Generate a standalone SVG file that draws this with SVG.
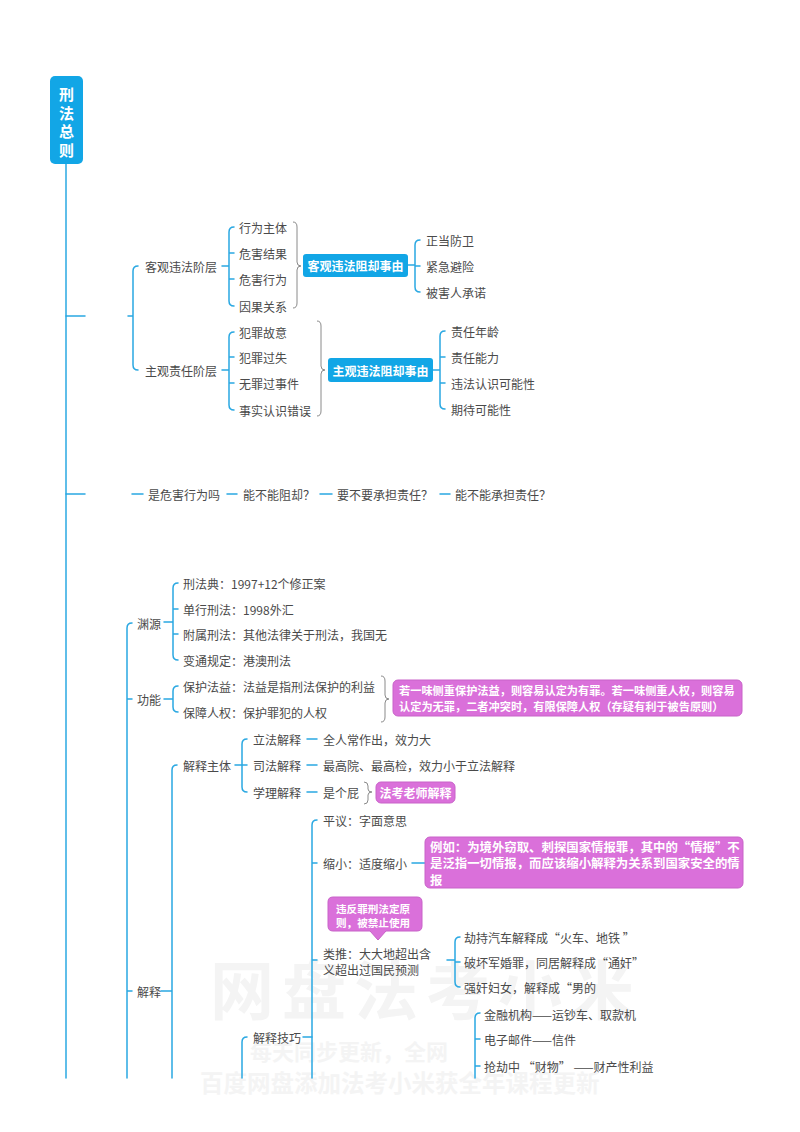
<svg xmlns="http://www.w3.org/2000/svg" width="800" height="1132" viewBox="0 0 800 1132">
<style>
.t{font-family:"Noto Sans CJK SC","Noto Sans",sans-serif;font-size:12px;fill:#4a4a4a;dominant-baseline:central}
.w{font-family:"Noto Sans CJK SC","Noto Sans",sans-serif;font-weight:bold;fill:#ffffff;dominant-baseline:central}
.ln{fill:none;stroke:#2aa8e2;stroke-width:1.5;stroke-linecap:round}
.br{fill:none;stroke:#8a8a8a;stroke-width:1}
.blue{fill:#12a6e6}
.pink{fill:#da70da;stroke:#c862c8;stroke-width:1}
.wm{font-family:"Noto Sans CJK SC",sans-serif;font-weight:bold;fill:#f4f4f4}
</style>
<rect width="800" height="1132" fill="#ffffff"/>
<g id="watermark">
<text class="wm" x="210" y="1014" font-size="64" letter-spacing="8">网盘法考小米</text>
<text class="wm" x="250" y="1060" font-size="22">每天同步更新，全网</text>
<text class="wm" x="200" y="1092" font-size="23.5">百度网盘添加法考小米获全年课程更新</text>
</g>
<g id="connectors">
<path class="ln" d="M66 164 V1078" stroke-width="2"/>
<path class="ln" d="M66 316 H85 M128 316 H133 M138 266 Q133 266 133 271 V365 Q133 370 138 370"/>
<path class="ln" d="M222 266 H229 M234 227 Q229 227 229 232 V301 Q229 306 234 306 M229 253 h5 M229 279 h5"/>
<path class="ln" d="M408 265 H415 M420 240 Q415 240 415 245 V287 Q415 292 420 292 M415 266 h5"/>
<path class="ln" d="M222 370 H229 M234 332 Q229 332 229 337 V405 Q229 410 234 410 M229 357 h5 M229 383 h5"/>
<path class="ln" d="M433 370 H440 M445 331 Q440 331 440 336 V404 Q440 409 445 409 M440 357 h5 M440 383 h5"/>
<path class="ln" d="M66 494 H85 M132 494 H143 M227 494 H237 M320 494 H332 M440 494 H450"/>
<path class="ln" d="M132 623 Q127 623 127 628 V1078 M127 699 h5 M127 991 h5"/>
<path class="ln" d="M164 622 H173 M178 583 Q173 583 173 588 V655 Q173 660 178 660 M173 609 h5 M173 634 h5"/>
<path class="ln" d="M164 699 H173 M178 686 Q173 686 173 691 V707 Q173 712 178 712"/>
<path class="ln" d="M161 991 H172 M177 765 Q172 765 172 770 V1078"/>
<path class="ln" d="M235 765 H242 M247 739 Q242 739 242 744 V787 Q242 792 247 792 M242 765 h5"/>
<path class="ln" d="M307 739 H317 M307 765 H317 M307 792 H317"/>
<path class="ln" d="M247 1037 Q242 1037 242 1042 V1078 M303 1037 H312"/>
<path class="ln" d="M317 820 Q312 820 312 825 V1078 M312 863 h5 M312 960 h5"/>
<path class="ln" d="M412 863 H425"/>
<path class="ln" d="M447 960 H455 M460 937 Q455 937 455 942 V982 Q455 987 460 987 M455 962 h5"/>
<path class="ln" d="M480 1013 Q475 1013 475 1018 V1078 M475 1039 h5 M475 1066 h5"/>
<path class="br" d="M293 222 Q297 222 297 227 V262 Q297 266 301 266 Q297 266 297 270 V303 Q297 308 293 308"/>
<path class="br" d="M317 321 Q321 321 321 326 V366 Q321 370 325 370 Q321 370 321 374 V411 Q321 416 317 416"/>
<path class="br" d="M381 676 Q385 676 385 681 V695 Q385 699 389 699 Q385 699 385 703 V717 Q385 722 381 722"/>
<path class="br" d="M364 782 Q368 782 368 786 V789 Q368 792 372 792 Q368 792 368 795 V800 Q368 804 364 804"/>
</g>
<g id="root">
<rect class="blue" x="50" y="76" width="33" height="88" rx="5"/>
<text class="w" font-size="15" x="66.5" y="93.5" text-anchor="middle">刑</text>
<text class="w" font-size="15" x="66.5" y="112" text-anchor="middle">法</text>
<text class="w" font-size="15" x="66.5" y="130.5" text-anchor="middle">总</text>
<text class="w" font-size="15" x="66.5" y="149" text-anchor="middle">则</text>
</g>
<g id="n-objective">
<text class="t" x="145" y="266">客观违法阶层</text>
<text class="t" x="239" y="227">行为主体</text>
<text class="t" x="239" y="253">危害结果</text>
<text class="t" x="239" y="279">危害行为</text>
<text class="t" x="239" y="306">因果关系</text>
</g>
<g id="n-objective-defense">
<rect class="blue" x="303" y="254" width="105" height="23" rx="3"/>
<text class="w" font-size="12" x="355.5" y="265.5" text-anchor="middle">客观违法阻却事由</text>
<text class="t" x="426" y="240">正当防卫</text>
<text class="t" x="426" y="266">紧急避险</text>
<text class="t" x="426" y="292">被害人承诺</text>
</g>
<g id="n-subjective">
<text class="t" x="145" y="370">主观责任阶层</text>
<text class="t" x="239" y="332">犯罪故意</text>
<text class="t" x="239" y="357">犯罪过失</text>
<text class="t" x="239" y="383">无罪过事件</text>
<text class="t" x="239" y="410">事实认识错误</text>
</g>
<g id="n-subjective-defense">
<rect class="blue" x="328" y="358" width="105" height="24" rx="3"/>
<text class="w" font-size="12" x="380.5" y="370" text-anchor="middle">主观违法阻却事由</text>
<text class="t" x="451" y="331">责任年龄</text>
<text class="t" x="451" y="357">责任能力</text>
<text class="t" x="451" y="383">违法认识可能性</text>
<text class="t" x="451" y="409">期待可能性</text>
</g>
<g id="n-questions">
<text class="t" x="148" y="494">是危害行为吗</text>
<text class="t" x="243" y="494">能不能阻却？</text>
<text class="t" x="337" y="494">要不要承担责任？</text>
<text class="t" x="455" y="494">能不能承担责任？</text>
</g>
<g id="n-source">
<text class="t" x="137" y="623">渊源</text>
<text class="t" x="183" y="583">刑法典：1997+12个修正案</text>
<text class="t" x="183" y="609">单行刑法：1998外汇</text>
<text class="t" x="183" y="634">附属刑法：其他法律关于刑法，我国无</text>
<text class="t" x="183" y="660">变通规定：港澳刑法</text>
</g>
<g id="n-function">
<text class="t" x="137" y="699">功能</text>
<text class="t" x="183" y="686">保护法益：法益是指刑法保护的利益</text>
<text class="t" x="183" y="712">保障人权：保护罪犯的人权</text>
<rect class="pink" x="393" y="680" width="349" height="36" rx="5"/>
<text class="w" font-size="11.2" x="399" y="690">若一味侧重保护法益，则容易认定为有罪。若一味侧重人权，则容易</text>
<text class="w" font-size="11.2" x="399" y="706">认定为无罪，二者冲突时，有限保障人权（存疑有利于被告原则）</text>
</g>
<g id="n-interpret">
<text class="t" x="137" y="991">解释</text>
</g>
<g id="n-interpret-subject">
<text class="t" x="183" y="765">解释主体</text>
<text class="t" x="253" y="739">立法解释</text>
<text class="t" x="253" y="765">司法解释</text>
<text class="t" x="253" y="792">学理解释</text>
<text class="t" x="323" y="739">全人常作出，效力大</text>
<text class="t" x="323" y="765">最高院、最高检，效力小于立法解释</text>
<text class="t" x="323" y="792">是个屁</text>
<rect class="pink" x="376" y="782" width="79" height="21" rx="5"/>
<text class="w" font-size="12" x="415.5" y="792.5" text-anchor="middle">法考老师解释</text>
</g>
<g id="n-interpret-skill">
<text class="t" x="253" y="1037">解释技巧</text>
<text class="t" x="323" y="820">平议：字面意思</text>
<text class="t" x="323" y="863">缩小：适度缩小</text>
<rect class="pink" x="425" y="837" width="318" height="51" rx="5"/>
<text class="w" font-size="12.4" x="430" y="847">例如：为境外窃取、刺探国家情报罪，其中的“情报”不</text>
<text class="w" font-size="12.4" x="430" y="863">是泛指一切情报，而应该缩小解释为关系到国家安全的情</text>
<text class="w" font-size="12.4" x="430" y="880">报</text>
</g>
<g id="n-analogy">
<path class="pink" d="M333 897 H417 Q422 897 422 902 V926 Q422 931 417 931 H386 L378 940 L370 931 H333 Q328 931 328 926 V902 Q328 897 333 897 Z"/>
<text class="w" font-size="10.6" x="336" y="908">违反罪刑法定原</text>
<text class="w" font-size="10.6" x="336" y="922">则，被禁止使用</text>
<text class="t" x="323" y="953">类推：大大地超出含</text>
<text class="t" x="323" y="969">义超出过国民预测</text>
<text class="t" x="464" y="937">劫持汽车解释成“火车、地铁 ”</text>
<text class="t" x="464" y="962">破坏军婚罪，同居解释成“通奸”</text>
<text class="t" x="464" y="987">强奸妇女，解释成“男的</text>
</g>
<g id="n-expand">
<text class="t" x="484" y="1014">金融机构——运钞车、取款机</text>
<text class="t" x="484" y="1039">电子邮件——信件</text>
<text class="t" x="484" y="1066">抢劫中 “财物” ——财产性利益</text>
</g>
</svg>
